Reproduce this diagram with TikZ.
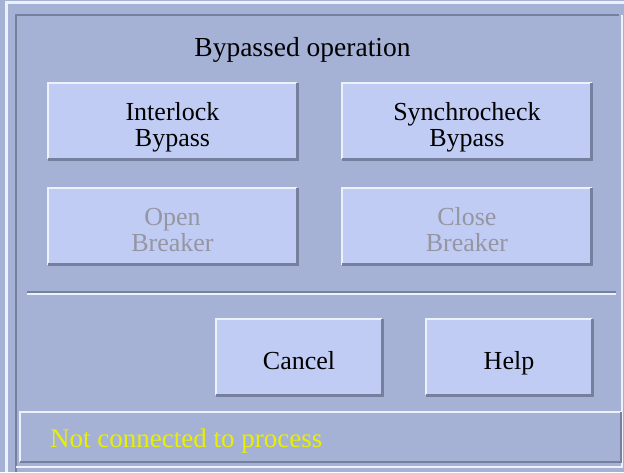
\documentclass[tikz,border=0pt]{standalone}
\usepackage{fontspec}
\newfontfamily\dlgfont{Liberation Serif}
\usetikzlibrary{positioning}

\definecolor{panel}{RGB}{165,178,214}
\definecolor{knob}{RGB}{192,204,243}
\definecolor{edgehi}{RGB}{236,241,252}
\definecolor{edgelo}{RGB}{118,127,158}
\definecolor{greyed}{RGB}{150,150,162}
\definecolor{msg}{RGB}{232,240,0}

\tikzset{
	lbl/.style={font=\dlgfont\fontsize{26}{26}\selectfont, align=center, text depth=6pt, yshift=-6pt},
	btn/.style={fill=knob, minimum width=249pt, minimum height=76pt, inner sep=0pt, label={[lbl]center:#1}},
	small/.style={btn=#1, minimum width=166pt},
	hi/.style={draw=edgehi, line width=2.5pt},
	lo/.style={draw=edgelo, line width=3pt},
}

\begin{document}
\begin{tikzpicture}[x=1pt, y=-1pt]
				\useasboundingbox (0,0) rectangle (624,472);
				\fill[panel] (0,0) rectangle (624,472);
				\draw[hi] (6.5,472) -- (6.5,2.5) -- (624,2.5);
				\draw[lo, line width=2pt] (16,472) -- (16,15) -- (619,15);
				\draw[hi, line width=2pt] (621.5,15) -- (621.5,467) -- (16,467);
				\node (title) at (302.5,56) [anchor=base, font=\dlgfont\fontsize{27.5}{27.5}\selectfont] {Bypassed operation};
				\node[btn={Interlock\\Bypass}] (ilk) at (172.5,121) {};
				\node[btn={Synchrocheck\\Bypass}, right=45pt of ilk] (syn) {};
				\node[btn={\textcolor{greyed}{Open}\\\textcolor{greyed}{Breaker}}, below=29pt of ilk] (opn) {};
				\node[btn={\textcolor{greyed}{Close}\\\textcolor{greyed}{Breaker}}, below=29pt of syn] (cls) {};
				\draw[lo, line width=1.5pt] (27,292) -- (616,292);
				\draw[hi, line width=1.5pt] (27,294) -- (616,294);
				\node[small=Cancel] (cnl) at (299,357) {};
				\node[small=Help] (hlp) at (509,357) {};
				\foreach \b in {ilk,syn,opn,cls,cnl,hlp} {
					\draw[hi] (\b.south west) -- (\b.north west) -- (\b.north east);
					\draw[lo] (\b.south west) -- (\b.south east) -- (\b.north east);
				}
				\node[minimum width=601pt, minimum height=50pt, inner sep=0pt] (bar) at (320.5,437) {};
				\draw[hi, line width=2pt] (bar.south west) -- (bar.north west) -- (bar.north east);
				\draw[lo, line width=2pt] (bar.south west) -- (bar.south east) -- (bar.north east);
				\node (state) at (50,447) [anchor=base west, inner sep=0pt, text=msg, font=\dlgfont\fontsize{27}{27}\selectfont] {Not connected to process};
			\end{tikzpicture}
\end{document}
